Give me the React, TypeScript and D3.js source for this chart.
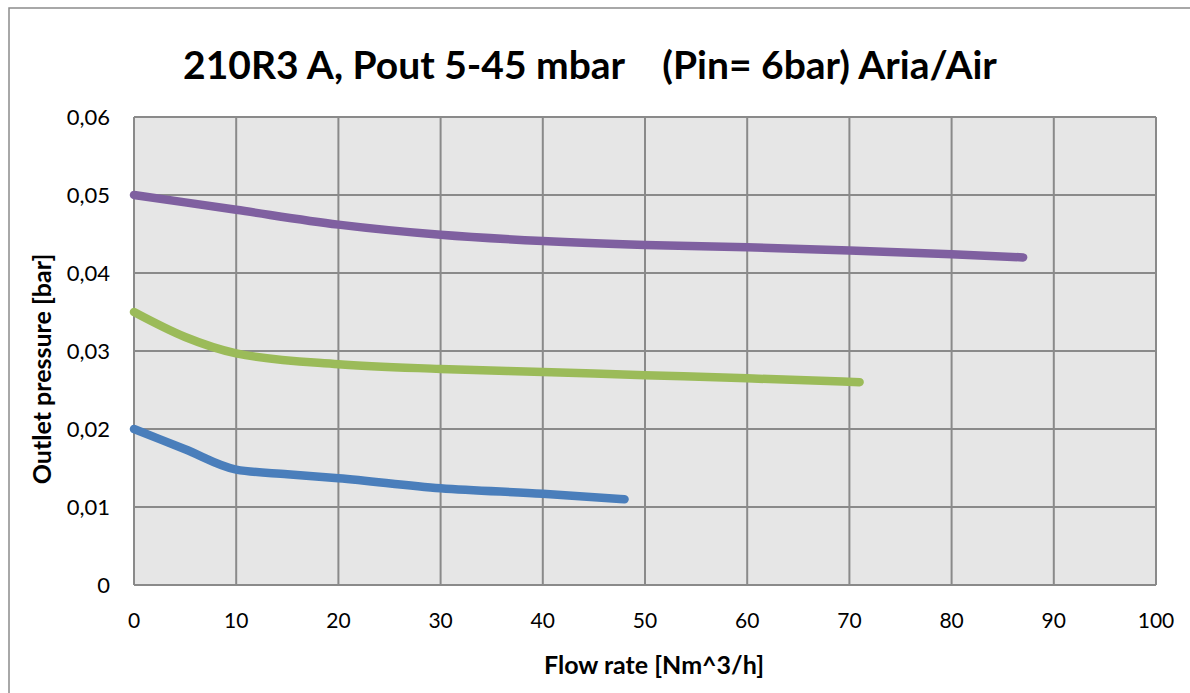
import React, { useEffect, useRef } from 'react';
import * as d3 from 'd3';

// flow rate [Nm^3/h] / outlet pressure [bar]
const blueFlow = [0, 5, 10, 15, 20, 30, 40, 48];
const bluePressure = [0.02, 0.0174, 0.0148, 0.0142, 0.0137, 0.0124, 0.0117, 0.011];

const greenFlow = [0, 5, 10, 20, 30, 40, 50, 60, 71];
const greenPressure = [0.035, 0.0318, 0.0297, 0.0283, 0.0277, 0.0273, 0.0269, 0.0265, 0.026];

const purpleFlow = [0, 10, 20, 30, 40, 50, 60, 70, 80, 87];
const purplePressure = [0.05, 0.0481, 0.0462, 0.0449, 0.0441, 0.0436, 0.0433, 0.0429, 0.0424, 0.042];

const xTicks = [0, 10, 20, 30, 40, 50, 60, 70, 80, 90, 100];
const yTicks = [0, 0.01, 0.02, 0.03, 0.04, 0.05, 0.06];

const series = [
  { flow: blueFlow, pressure: bluePressure, color: '#4A7EBB' },
  { flow: greenFlow, pressure: greenPressure, color: '#9BBB59' },
  { flow: purpleFlow, pressure: purplePressure, color: '#7F60A0' },
];

const App = () => {
  const chartRef = useRef<SVGSVGElement>(null);

  useEffect(() => {
    const svg = d3.select(chartRef.current);
    svg.selectAll('*').remove();

    const left = 134, right = 1156, top = 117, bottom = 585;
    const font = 'Lato, "Open Sans", sans-serif';

    // outer chart frame
    svg.append('rect')
      .attr('x', 9).attr('y', 8)
      .attr('width', 1200).attr('height', 720)
      .attr('fill', '#fff')
      .attr('stroke', '#8c8c8c')
      .attr('stroke-width', 1.5);

    const x = d3.scaleLinear().domain([0, 100]).range([left, right]);
    const y = d3.scaleLinear().domain([0, 0.06]).range([bottom, top]);

    svg.append('rect')
      .attr('x', left).attr('y', top)
      .attr('width', right - left).attr('height', bottom - top)
      .attr('fill', '#E6E6E6');

    // grid
    svg.append('g')
      .selectAll('line')
      .data(xTicks)
      .join('line')
      .attr('x1', d => x(d)).attr('x2', d => x(d))
      .attr('y1', top).attr('y2', bottom)
      .attr('stroke', '#8a8a8a')
      .attr('stroke-width', 2);

    svg.append('g')
      .selectAll('line')
      .data(yTicks)
      .join('line')
      .attr('x1', left).attr('x2', right)
      .attr('y1', d => y(d)).attr('y2', d => y(d))
      .attr('stroke', '#8a8a8a')
      .attr('stroke-width', 2);

    // axes labels
    svg.append('g')
      .selectAll('text')
      .data(yTicks)
      .join('text')
      .attr('x', 110)
      .attr('y', d => y(d) + 7.5)
      .attr('text-anchor', 'end')
      .attr('font-family', font)
      .attr('font-size', 22)
      .attr('fill', '#000')
      .text(d => (d === 0 ? '0' : d3.format('.2f')(d).replace('.', ',')));

    svg.append('g')
      .selectAll('text')
      .data(xTicks)
      .join('text')
      .attr('x', d => x(d))
      .attr('y', 628)
      .attr('text-anchor', 'middle')
      .attr('font-family', font)
      .attr('font-size', 21)
      .attr('fill', '#000')
      .text(d => d);

    const line = d3.line<[number, number]>()
      .curve(d3.curveMonotoneX)
      .x(d => x(d[0]))
      .y(d => y(d[1]));

    series.forEach(s => {
      const pts = s.flow.map((f, i) => [f, s.pressure[i]] as [number, number]);
      svg.append('path')
        .datum(pts)
        .attr('fill', 'none')
        .attr('stroke', s.color)
        .attr('stroke-width', 8.5)
        .attr('stroke-linecap', 'round')
        .attr('stroke-linejoin', 'round')
        .attr('d', line);
    });

    svg.append('text')
      .attr('x', 590).attr('y', 79)
      .attr('text-anchor', 'middle')
      .attr('font-family', font)
      .attr('font-weight', 'bold')
      .attr('font-size', 39)
      .attr('xml:space', 'preserve')
      .style('white-space', 'pre')
      .text('210R3 A, Pout 5-45 mbar    (Pin= 6bar) Aria/Air');

    svg.append('text')
      .attr('x', 654).attr('y', 674)
      .attr('text-anchor', 'middle')
      .attr('font-family', font)
      .attr('font-weight', 'bold')
      .attr('font-size', 25)
      .text('Flow rate [Nm^3/h]');

    svg.append('text')
      .attr('transform', 'translate(51,369) rotate(-90)')
      .attr('text-anchor', 'middle')
      .attr('font-family', font)
      .attr('font-weight', 'bold')
      .attr('font-size', 25)
      .text('Outlet pressure [bar]');
  }, []);

  return (
    <svg
      ref={chartRef}
      width={1190}
      height={693}
      style={{ position: 'absolute', left: 0, top: 0, background: '#fff' }}
    />
  );
};

export default App;
